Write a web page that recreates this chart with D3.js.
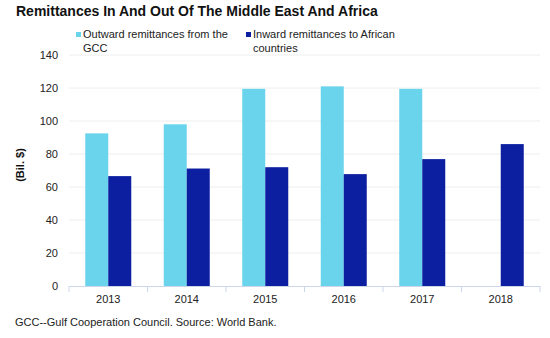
<!DOCTYPE html>
<html>
<head>
<meta charset="utf-8">
<script src="https://cdn.jsdelivr.net/npm/d3@7"></script>
<style>
  body { margin: 0; background: #fff; font-family: "Liberation Sans", Arial, sans-serif; }
  .grid line { stroke: #eeeeee; }
  .xaxis path, .xaxis line { stroke: #ccd6eb; }
  .lbl { font-size: 11px; fill: #222; }
</style>
</head>
<body>
<div id="main"></div>
<script>
// data
var years = ["2013", "2014", "2015", "2016", "2017", "2018"];
var outward = [92.5, 98, 119.5, 121, 119.5, null];
var inward = [66.6, 71.2, 72, 67.8, 76.9, 86];
var seriesNames = ["Outward remittances from the|GCC", "Inward remittances to African|countries"];
var yTicks = [0, 20, 40, 60, 80, 100, 120, 140];

var colors = ["#6ad4ec", "#0b1fa0"];

var W = 550, H = 338;
var margin = { top: 55, right: 10, bottom: 52, left: 69 };
var plotW = 540 - margin.left, plotH = 286 - margin.top;

var svg = d3.select("#main").append("svg")
  .attr("width", W)
  .attr("height", H);

svg.append("text")
  .attr("x", 16).attr("y", 16)
  .style("font-size", "14px").style("font-weight", "bold").style("fill", "#111")
  .text("Remittances In And Out Of The Middle East And Africa");

var g = svg.append("g")
  .attr("transform", "translate(" + margin.left + "," + margin.top + ")");

var x = d3.scaleBand().domain(years).range([0, plotW]);
var x1 = d3.scaleBand().domain([0, 1]).range([0, 46]);
var y = d3.scaleLinear().domain([0, 140]).range([plotH, 0]);

// gridlines
g.append("g").attr("class", "grid")
  .selectAll("line")
  .data(yTicks.filter(function (d) { return d > 0; }))
  .enter().append("line")
  .attr("x1", 0).attr("x2", plotW)
  .attr("y1", function (d) { return y(d); })
  .attr("y2", function (d) { return y(d); });

// y labels
g.append("g")
  .selectAll("text")
  .data(yTicks)
  .enter().append("text")
  .attr("class", "lbl")
  .attr("x", -11)
  .attr("y", function (d) { return y(d) + 4; })
  .attr("text-anchor", "end")
  .text(function (d) { return d; });

svg.append("text")
  .attr("transform", "translate(24,165) rotate(-90)")
  .attr("text-anchor", "middle")
  .style("font-size", "11px").style("font-weight", "bold").style("fill", "#111")
  .text("(Bil. $)");

// bars
var groups = g.selectAll(".yr")
  .data(years)
  .enter().append("g")
  .attr("transform", function (d) { return "translate(" + (x(d) + (x.bandwidth() - 46) / 2) + ",0)"; });

groups.selectAll("rect")
  .data(function (d, i) {
    return [{ s: 0, v: outward[i] }, { s: 1, v: inward[i] }].filter(function (e) { return e.v !== null; });
  })
  .enter().append("rect")
  .attr("x", function (d) { return x1(d.s); })
  .attr("width", x1.bandwidth())
  .attr("y", function (d) { return y(d.v); })
  .attr("height", function (d) { return plotH - y(d.v); })
  .attr("fill", function (d) { return colors[d.s]; });

// x axis
var xAxis = g.append("g")
  .attr("class", "xaxis")
  .attr("transform", "translate(0," + plotH + ")")
  .call(d3.axisBottom(x).tickSize(0).tickPadding(9));
xAxis.selectAll("text").attr("class", "lbl").style("font-family", "Liberation Sans, Arial, sans-serif");
xAxis.select(".domain").attr("d", "M0,0.5H" + plotW);
xAxis.selectAll(".sep")
  .data(years.concat(["end"]))
  .enter().append("line")
  .attr("class", "sep")
  .attr("x1", function (d, i) { return i * x.step(); })
  .attr("x2", function (d, i) { return i * x.step(); })
  .attr("y1", 0).attr("y2", 6)
  .attr("stroke", "#ccd6eb");

// legend
var legend = svg.append("g");
var legX = [76, 246];
seriesNames.forEach(function (name, i) {
  legend.append("rect")
    .attr("x", legX[i]).attr("y", 32)
    .attr("width", 5).attr("height", 5)
    .attr("fill", colors[i]);
  var t = legend.append("text")
    .attr("class", "lbl")
    .attr("x", legX[i] + 7).attr("y", 38);
  name.split("|").forEach(function (part, j) {
    t.append("tspan")
      .attr("x", legX[i] + 7)
      .attr("dy", j === 0 ? 0 : 14)
      .text(part);
  });
});

svg.append("text")
  .attr("class", "lbl")
  .attr("x", 15).attr("y", 326)
  .text("GCC--Gulf Cooperation Council. Source: World Bank.");
</script>
</body>
</html>
